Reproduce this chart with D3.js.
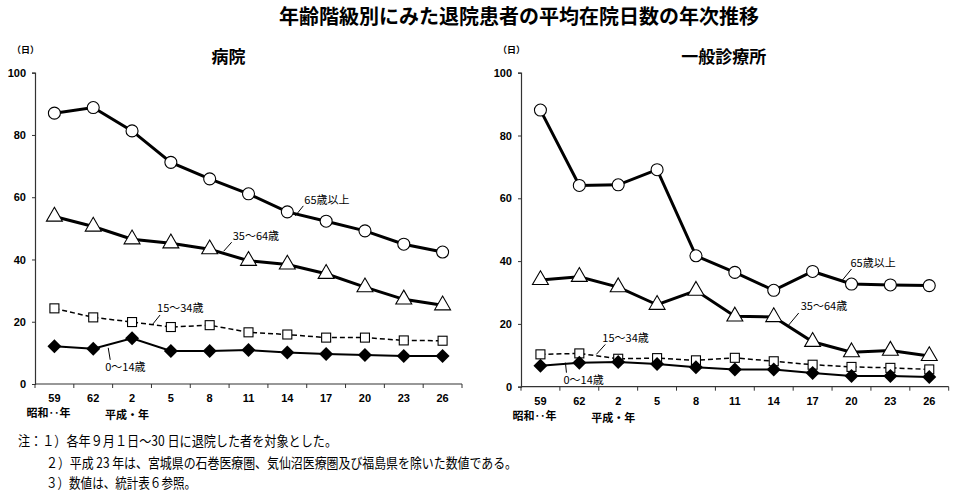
<!DOCTYPE html>
<html><head><meta charset="utf-8">
<script src="https://cdn.jsdelivr.net/npm/d3@7"></script>
<style>
body{margin:0;background:#fff;}
text{font-family:"Liberation Sans","Noto Sans CJK JP",sans-serif;}
.jp{font-family:"Noto Sans CJK JP",sans-serif;}
</style></head>
<body><svg id="c" width="956" height="502"></svg>
<script>
const years = ["59","62","2","5","8","11","14","17","20","23","26"];
const yTicks = [0,20,40,60,80,100];
const seriesNames = ["65歳以上","35～64歳","15～34歳","0～14歳"];
// 病院
const hosp65 = [87.0,88.8,81.3,71.2,65.9,61.1,55.3,52.3,49.2,44.9,42.4];
const hosp35 = [53.8,50.6,46.5,45.2,43.3,39.6,38.4,35.4,31.1,27.2,25.3];
const hosp15 = [24.3,21.4,19.9,18.3,18.9,16.6,15.9,14.9,14.9,14.0,13.9];
const hosp0  = [12.1,11.3,14.7,10.6,10.6,10.9,10.1,9.6,9.3,9.0,9.0];
// 一般診療所
const clin65 = [88.1,64.1,64.3,69.1,41.7,36.4,30.7,36.7,32.7,32.4,32.2];
const clin35 = [34.0,35.0,31.7,26.1,30.6,22.4,22.2,14.3,11.0,11.5,9.8];
const clin15 = [10.3,10.6,8.9,9.1,8.4,9.2,8.1,7.0,6.3,6.0,5.5];
const clin0  = [6.7,7.6,7.9,7.2,6.2,5.5,5.5,4.4,3.4,3.4,3.1];

const svg = d3.select("#c");
svg.append("text").attr("x",519).attr("y",24).attr("text-anchor","middle")
  .attr("class","jp").attr("font-size",20).attr("font-weight","bold")
  .text("年齢階級別にみた退院患者の平均在院日数の年次推移");

function panel(opt){
  const g = svg.append("g");
  const xb = d3.scaleBand().domain(years).range([opt.x0,opt.x1]);
  const x = d => xb(d)+xb.bandwidth()/2;
  const y = d3.scaleLinear().domain([0,100]).range([opt.yb,opt.yt]);
  g.append("text").attr("x",(opt.x0+opt.x1)/2+opt.tdx).attr("y",63).attr("text-anchor","middle")
    .attr("class","jp").attr("font-size",17).attr("font-weight","bold").text(opt.title);
  g.append("text").attr("x",opt.x0-23).attr("y",53).attr("class","jp").attr("font-size",9).attr("font-weight","bold").text("（日）");
  // y axis
  const ya = d3.axisLeft(y).tickValues(yTicks).tickSize(3).tickPadding(6);
  const yg = g.append("g").attr("transform",`translate(${opt.x0},0)`).call(ya);
  yg.select(".domain").attr("stroke","#333").attr("stroke-width",1.2);
  yg.selectAll(".tick line").attr("stroke","#333");
  yg.selectAll(".tick text").attr("font-size",11).attr("font-weight","bold").attr("fill","#000");
  // x axis
  g.append("line").attr("x1",opt.x0).attr("x2",opt.x1).attr("y1",y(0)).attr("y2",y(0)).attr("stroke","#333").attr("stroke-width",1.2);
  years.forEach((yr,i)=>{
    const bx = xb(yr)+xb.bandwidth();
    g.append("line").attr("x1",bx).attr("x2",bx).attr("y1",y(0)).attr("y2",y(0)+4).attr("stroke","#333");
    g.append("text").attr("x",x(yr)).attr("y",y(0)+18).attr("text-anchor","middle")
      .attr("font-size",11).attr("font-weight","bold").text(yr);
  });
  g.append("line").attr("x1",opt.x0).attr("x2",opt.x0).attr("y1",y(0)).attr("y2",y(0)+4).attr("stroke","#333");
  g.append("text").attr("x",x("59")-6).attr("y",y(0)+33).attr("text-anchor","middle").attr("class","jp")
    .attr("font-size",11).attr("font-weight","bold").text("昭和‥年");
  g.append("text").attr("x",x("62")+xb.bandwidth()*0.87).attr("y",y(0)+35).attr("text-anchor","middle").attr("class","jp")
    .attr("font-size",11).attr("font-weight","bold").text("平成・年");

  const line = d3.line().x((d,i)=>x(years[i])).y(d=>y(d));
  const sets = [
    {v:opt.s65, w:3, dash:null, m:"circle"},
    {v:opt.s35, w:3, dash:null, m:"triangle"},
    {v:opt.s15, w:1.5, dash:"5,3", m:"square"},
    {v:opt.s0,  w:2, dash:null, m:"diamond"}
  ];
  sets.forEach(s=>{
    g.append("path").datum(s.v).attr("d",line).attr("fill","none").attr("stroke","#000")
      .attr("stroke-width",s.w).attr("stroke-dasharray",s.dash);
  });
  sets.forEach(s=>{
    s.v.forEach((v,i)=>{
      const cx=x(years[i]), cy=y(v);
      if(s.m==="circle") g.append("circle").attr("cx",cx).attr("cy",cy).attr("r",6).attr("fill","#fff").attr("stroke","#000").attr("stroke-width",1.1);
      if(s.m==="triangle") g.append("path").attr("d",d3.symbol(d3.symbolTriangle,110)()).attr("transform",`translate(${cx},${cy})`).attr("fill","#fff").attr("stroke","#000").attr("stroke-width",1.1);
      if(s.m==="square") g.append("rect").attr("x",cx-4.5).attr("y",cy-4.5).attr("width",9).attr("height",9).attr("fill","#fff").attr("stroke","#000").attr("stroke-width",1.1);
      if(s.m==="diamond") g.append("path").attr("d","M0,-7L7,0L0,7L-7,0Z").attr("transform",`translate(${cx},${cy})`).attr("fill","#000");
    });
  });
  // labels with leader lines
  opt.labels.forEach(L=>{
    const px = x(years[L.i])+L.lx1, py = y(L.v)+L.ly1;
    g.append("line").attr("x1",px).attr("y1",py).attr("x2",px+L.ldx).attr("y2",py+L.ldy).attr("stroke","#000").attr("stroke-width",1);
    g.append("text").attr("x",px+L.tx).attr("y",py+L.ty).attr("class","jp").attr("font-size",11).text(L.t);
  });
}

panel({x0:35,x1:462,yb:384,yt:72.7,tdx:-20,title:"病院",
  s65:hosp65,s35:hosp35,s15:hosp15,s0:hosp0,
  labels:[
    {t:seriesNames[0],i:6,v:hosp65[6],lx1:8,ly1:4,ldx:8,ldy:-10,tx:9,ty:-12},
    {t:seriesNames[1],i:4,v:hosp35[4],lx1:14,ly1:2,ldx:8,ldy:-9,tx:9,ty:-11},
    {t:seriesNames[2],i:2,v:hosp15[2],lx1:20,ly1:3,ldx:8,ldy:-10,tx:5,ty:-13},
    {t:seriesNames[3],i:1,v:hosp0[1],lx1:15,ly1:-1,ldx:2,ldy:12,tx:-3,ty:23}
  ]});
panel({x0:521,x1:948.7,yb:386.7,yt:72.7,tdx:-11,title:"一般診療所",
  s65:clin65,s35:clin35,s15:clin15,s0:clin0,
  labels:[
    {t:seriesNames[0],i:8,v:clin65[8],lx1:-9,ly1:-4,ldx:9,ldy:-11,tx:8,ty:-13},
    {t:seriesNames[1],i:6,v:clin35[6],lx1:15,ly1:8,ldx:10,ldy:-12,tx:12,ty:-15},
    {t:seriesNames[2],i:1,v:clin15[1],lx1:17,ly1:1,ldx:9,ldy:-10,tx:6,ty:-12},
    {t:seriesNames[3],i:0,v:clin0[0],lx1:25,ly1:-3,ldx:1,ldy:10,tx:-2,ty:21}
  ]});

const notes = [
  "注：１）各年９月１日～30 日に退院した者を対象とした。",
  "２）平成 23 年は、宮城県の石巻医療圏、気仙沼医療圏及び福島県を除いた数値である。",
  "３）数値は、統計表６参照。"
];
const noteX = [18,46,46], noteY = [446,468,488], noteW = [319,471,150];
notes.forEach((t,i)=>{
  svg.append("text").attr("x",noteX[i]).attr("y",noteY[i]).attr("class","jp").attr("font-size",14)
    .attr("textLength",noteW[i]).attr("lengthAdjust","spacingAndGlyphs").text(t);
});
</script></body></html>
